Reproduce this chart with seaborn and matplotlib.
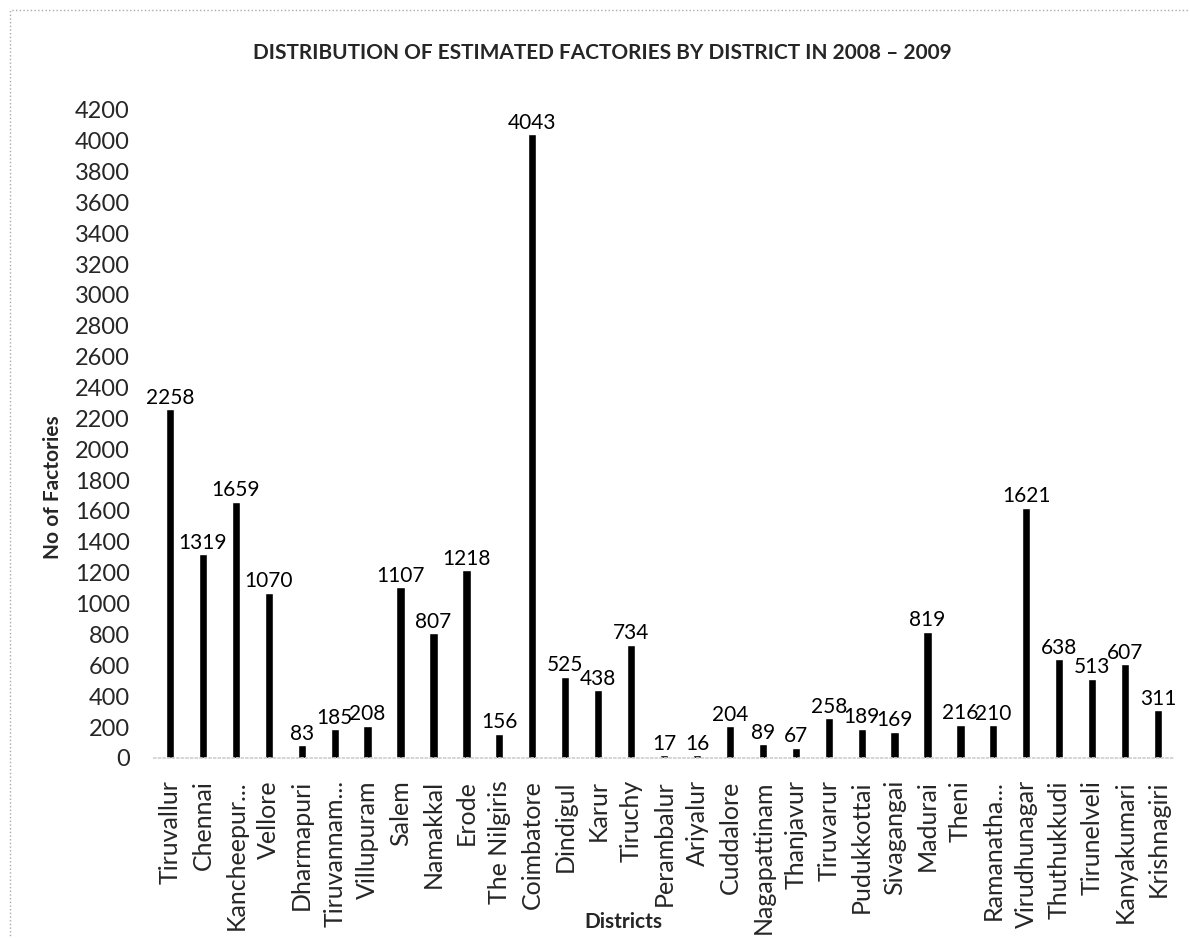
import matplotlib
matplotlib.use("Agg")
import matplotlib.pyplot as plt
import pandas as pd
import seaborn as sns
from matplotlib.patches import Rectangle

districts = [
    "Tiruvallur", "Chennai", "Kancheepur...", "Vellore", "Dharmapuri",
    "Tiruvannam...", "Villupuram", "Salem", "Namakkal", "Erode",
    "The Nilgiris", "Coimbatore", "Dindigul", "Karur", "Tiruchy",
    "Perambalur", "Ariyalur", "Cuddalore", "Nagapattinam", "Thanjavur",
    "Tiruvarur", "Pudukkottai", "Sivagangai", "Madurai", "Theni",
    "Ramanatha...", "Virudhunagar", "Thuthukkudi", "Tirunelveli", "Kanyakumari",
    "Krishnagiri",
]
factories = [
    2258, 1319, 1659, 1070, 83,
    185, 208, 1107, 807, 1218,
    156, 4043, 525, 438, 734,
    17, 16, 204, 89, 67,
    258, 189, 169, 819, 216,
    210, 1621, 638, 513, 607,
    311,
]
y_ticks = list(range(0, 4201, 200))

df = pd.DataFrame({"District": districts, "Factories": factories})

sns.set_theme(style="white")
plt.rcParams["font.family"] = ["Lato", "DejaVu Sans"]

fig = plt.figure(figsize=(11.9, 9.38), dpi=100)
ax = fig.add_axes([0.129, 0.192, 0.858, 0.691])

sns.barplot(data=df, x="District", y="Factories", color="black",
            saturation=1, width=0.25, ax=ax)

# value labels above each bar
for i, v in enumerate(df["Factories"]):
    ax.annotate(str(v), (i, v), xytext=(0, 1), textcoords="offset points",
                ha="center", va="bottom", fontsize=15, color="black")

ax.set_ylim(0, 4200)
ax.set_yticks(y_ticks)
ax.set_xlim(-0.5, len(districts) - 0.5)

for side in ["top", "right", "left"]:
    ax.spines[side].set_visible(False)
ax.spines["bottom"].set_color("#d0d0d0")
ax.spines["bottom"].set_linestyle(":")

ax.tick_params(axis="y", length=3, width=1, color="#b0b0b0", pad=14, labelsize=17)
ax.tick_params(axis="x", length=0, pad=16, labelsize=18, rotation=90)

ax.set_xlabel("Districts", fontsize=15, fontweight="bold")
ax.set_ylabel("No of Factories", fontsize=15, fontweight="bold")
ax.xaxis.set_label_coords(0.46, -0.238)
ax.yaxis.set_label_coords(-0.089, 0.417)

fig.text(0.506, 0.944, "DISTRIBUTION OF ESTIMATED FACTORIES BY DISTRICT IN 2008 \u2013 2009",
         ha="center", va="center", fontsize=15, fontweight="bold")

# faint dotted border like the scanned chart frame
fig.patches.append(Rectangle((0.008, -0.1), 1.1, 1.089, transform=fig.transFigure,
                             fill=False, edgecolor="#aaaaaa", linestyle=":", linewidth=1))

fig.savefig("out.png", dpi=100)
